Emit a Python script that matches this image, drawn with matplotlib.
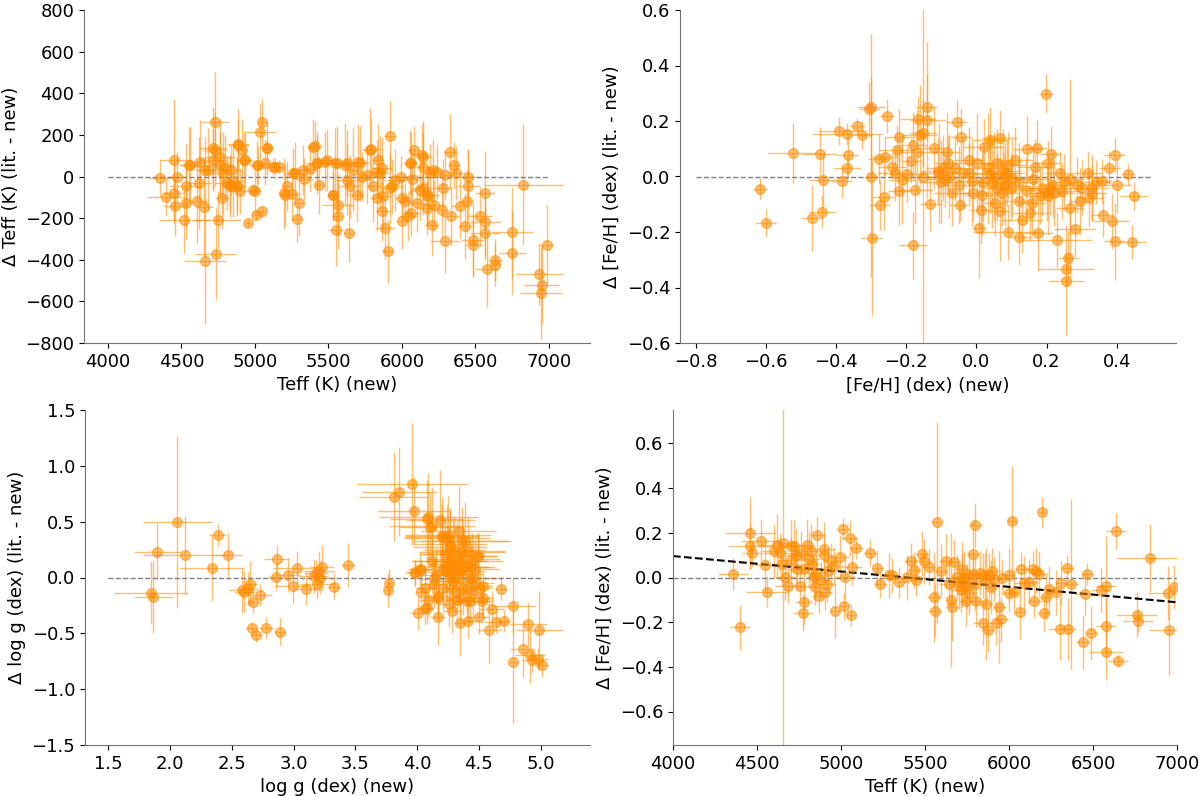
import numpy as np
import matplotlib
matplotlib.use('Agg')
import matplotlib.pyplot as plt

# top left: Teff (new) vs delta Teff
tl_teff = [4354, 4395, 4451, 4467, 4451, 4456, 4519, 4528, 4531, 4558,
           4608, 4621, 4653, 4660, 4733, 4728, 4746, 4728, 4717, 4683,
           4762, 4807, 4830, 4853, 4875, 4898, 4776, 4887, 4909, 4928,
           4785, 4840, 4955, 4989, 5007, 5050, 5034, 5050, 5080, 5023,
           5068, 5125, 5166, 5200, 5216, 5250, 5272, 5302, 5284, 5334,
           5374, 5408, 5424, 5435, 5488, 5533, 5556, 5567, 5567, 5549,
           5642, 5613, 5624, 5647, 5670, 5692, 5715, 5726, 5760, 5790,
           5805, 5832, 5839, 5862, 5866, 5885, 5907, 5919, 5930, 5953,
           5991, 6003, 5998, 6021, 6043, 6061, 6061, 6071, 6084, 6105,
           6134, 6146, 6141, 6168, 6180, 6202, 6214, 6218, 6270, 6277,
           6293, 6293, 6327, 6331, 6356, 6368, 6395, 6429, 6440, 6452,
           6452, 6481, 6486, 6531, 6565, 6565, 6565, 6576, 6633, 6633,
           6751, 6751, 6826, 6935, 6951, 6946, 6985,
           4553, 4626, 4660, 4717, 4762, 4796, 4830, 4875, 4886, 4932,
           5000, 5011, 5079, 5136, 5204, 5261, 5329, 5397, 5420, 5476,
           5528, 5544, 5624, 5703, 5782, 5828, 5873, 5850, 5918, 6054,
           6145, 6190, 6236, 6122, 6168]
tl_dteff = [-8, -99, 80, 0, -77, -144, -208, -128, -45, 56,
            -120, -32, -147, -408, -373, 261, -208, 128, 80, 32,
            56, -32, -45, -24, -48, -72, -104, 157, 128, 80,
            16, 32, -224, -64, -184, -168, 216, 261, 136, 56,
            67, 48, 48, -80, -45, -85, 16, -125, -205, -13,
            35, 147, 64, -40, 80, -88, 64, -136, -189, -259,
            -272, 56, -16, -48, 32, -88, 64, 0, 8, 131,
            -48, -104, 80, 40, -168, -248, -360, 195, -48, -16,
            0, -104, -216, -120, -192, -176, 64, -13, 125, -128,
            104, 48, -56, -152, -88, -232, 29, -136, -160, -56,
            8, -312, 120, -192, 56, 16, -144, -237, -120, 0,
            -45, -304, -328, -192, -77, -221, -272, -445, -400, -424,
            -269, -368, -40, -469, -520, -560, -328,
            56, 72, 32, 136, 96, 48, -40, -48, 152, 80,
            -72, 56, 136, 48, -88, 16, 32, 144, 64, 72,
            -88, 64, 64, 72, 128, 24, -96, 16, -56, 64,
            96, 16, 24, -64, -96]
tl_xerr = [75, 130, 95, 60, 70, 80, 175, 60, 110, 70,
           65, 90, 60, 145, 140, 95, 160, 80, 100, 70,
           90, 80, 60, 70, 50, 60, 50, 70, 40, 50,
           90, 70, 20, 30, 20, 20, 108, 30, 30, 50,
           30, 30, 25, 40, 30, 50, 40, 40, 30, 60,
           50, 40, 80, 40, 60, 40, 70, 108, 40, 50,
           40, 60, 80, 70, 60, 50, 60, 90, 50, 60,
           50, 50, 40, 70, 50, 70, 40, 40, 60, 70,
           60, 50, 40, 50, 60, 50, 40, 60, 40, 50,
           60, 50, 70, 60, 70, 50, 60, 80, 50, 60,
           50, 100, 50, 60, 40, 60, 60, 50, 40, 50,
           80, 80, 60, 80, 70, 110, 100, 80, 50, 40,
           140, 90, 270, 160, 120, 140, 50,
           60, 80, 70, 90, 100, 60, 50, 60, 70, 50,
           40, 50, 40, 40, 40, 50, 60, 40, 50, 40,
           40, 60, 70, 60, 50, 50, 60, 70, 60, 50,
           60, 50, 40, 60, 50]
tl_yerr = [90, 90, 290, 120, 150, 140, 160, 170, 200, 180,
           200, 220, 240, 300, 220, 240, 140, 180, 150, 200,
           160, 130, 150, 170, 140, 110, 150, 120, 150, 130,
           200, 120, 20, 30, 25, 25, 130, 110, 40, 90,
           110, 40, 30, 170, 120, 130, 150, 160, 110, 100,
           110, 120, 130, 140, 150, 120, 180, 150, 160, 170,
           140, 200, 170, 150, 200, 130, 180, 120, 140, 150,
           170, 160, 170, 150, 140, 150, 150, 170, 130, 150,
           100, 110, 130, 90, 120, 110, 150, 130, 120, 140,
           150, 160, 130, 130, 140, 150, 150, 120, 140, 140,
           120, 150, 180, 140, 110, 130, 150, 160, 150, 130,
           170, 180, 150, 140, 200, 160, 130, 180, 100, 100,
           220, 200, 290, 150, 190, 220, 190,
           180, 200, 160, 200, 180, 150, 140, 130, 170, 140,
           110, 120, 130, 40, 150, 120, 120, 130, 150, 140,
           130, 170, 160, 180, 200, 150, 160, 180, 170, 160,
           170, 140, 130, 150, 140]

# top right: [Fe/H] (new) vs delta [Fe/H]
tr_feh = [-0.617, -0.601, -0.522, -0.447, -0.469, -0.441, -0.436, -0.391, -0.370, -0.367,
          -0.370, -0.384, -0.339, -0.327, -0.306, -0.300, -0.301, -0.299, -0.279, -0.275,
          -0.264, -0.256, -0.260, -0.241, -0.232, -0.227, -0.222, -0.222, -0.212, -0.199,
          -0.186, -0.182, -0.181, -0.175, -0.170, -0.167, -0.162, -0.153, -0.142, -0.140,
          -0.132, -0.121, -0.108, -0.094, -0.085, -0.077, -0.070, -0.056, -0.048, -0.045,
          -0.037, -0.022, -0.013, 0.001, 0.008, 0.013, 0.015, 0.022, 0.034, 0.039,
          0.044, 0.053, 0.066, 0.066, 0.072, 0.082, 0.086, 0.091, 0.101, 0.110,
          0.120, 0.122, 0.129, 0.143, 0.153, 0.158, 0.167, 0.172, 0.177, 0.186,
          0.199, 0.203, 0.205, 0.212, 0.218, 0.229, 0.239, 0.244, 0.256, 0.256,
          0.262, 0.267, 0.281, 0.286, 0.294, 0.319, 0.322, 0.329, 0.357, 0.360,
          0.379, 0.386, 0.395, 0.395, 0.400, 0.433, 0.443, 0.449, -0.153, 0.267,
          -0.090, -0.060, 0.040, 0.080, 0.100, 0.200, 0.210, -0.010, 0.060, 0.140,
          -0.110, -0.100, -0.080, -0.050, -0.020, 0.020, 0.050, 0.060, 0.075, 0.090,
          0.120, 0.160, 0.180, 0.220, 0.250, 0.300, 0.330, 0.340]
tr_dfeh = [-0.046, -0.168, 0.084, 0.080, -0.150, -0.127, -0.014, 0.164, 0.152, 0.078,
           0.032, -0.018, 0.182, 0.149, 0.242, 0.252, -0.002, -0.221, 0.062, -0.104,
           -0.074, 0.218, 0.072, 0.036, 0.012, 0.096, 0.142, -0.054, -0.012, 0.008,
           0.056, 0.112, -0.248, -0.048, 0.090, 0.208, 0.150, 0.156, 0.250, 0.204,
           -0.098, 0.104, 0.014, 0.030, 0.090, 0.000, -0.060, 0.197, -0.102, 0.144,
           0.012, 0.012, -0.018, 0.048, -0.186, -0.122, -0.066, 0.108, 0.030, 0.132,
           -0.024, -0.096, 0.138, -0.126, -0.060, -0.030, 0.012, -0.200, -0.006, 0.060,
           -0.090, -0.218, -0.156, 0.098, -0.132, -0.096, 0.036, 0.102, -0.202, -0.042,
           0.298, -0.072, 0.048, 0.082, -0.030, -0.228, 0.012, -0.054, -0.334, -0.376,
           -0.294, -0.114, -0.190, -0.030, -0.090, 0.012, -0.078, -0.042, -0.018, -0.138,
           0.032, -0.162, -0.234, 0.078, -0.030, 0.010, -0.236, -0.070, 0.000, -0.010,
           -0.010, 0.030, 0.010, -0.010, -0.040, -0.060, -0.040, -0.060, 0.050, -0.050,
           0.020, -0.020, 0.050, -0.030, 0.060, -0.020, 0.000, -0.040, 0.020, 0.040,
           -0.020, -0.010, -0.070, -0.060, -0.020, -0.040, -0.060, -0.020]
tr_xerr = [0.02, 0.03, 0.071, 0.05, 0.03, 0.04, 0.04, 0.06, 0.10, 0.03,
           0.04, 0.03, 0.02, 0.03, 0.03, 0.04, 0.02, 0.03, 0.03, 0.03,
           0.03, 0.02, 0.04, 0.04, 0.05, 0.05, 0.04, 0.03, 0.04, 0.05,
           0.03, 0.04, 0.04, 0.05, 0.06, 0.05, 0.05, 0.04, 0.03, 0.05,
           0.03, 0.03, 0.04, 0.05, 0.04, 0.06, 0.05, 0.03, 0.03, 0.03,
           0.04, 0.05, 0.04, 0.04, 0.02, 0.03, 0.05, 0.06, 0.05, 0.05,
           0.04, 0.03, 0.05, 0.03, 0.05, 0.04, 0.05, 0.10, 0.04, 0.05,
           0.04, 0.03, 0.06, 0.04, 0.05, 0.04, 0.05, 0.03, 0.04, 0.04,
           0.02, 0.05, 0.04, 0.03, 0.04, 0.10, 0.04, 0.05, 0.08, 0.05,
           0.03, 0.04, 0.06, 0.04, 0.03, 0.04, 0.04, 0.05, 0.03, 0.03,
           0.03, 0.05, 0.03, 0.03, 0.04, 0.02, 0.04, 0.04, 0.04, 0.04,
           0.05, 0.04, 0.05, 0.05, 0.04, 0.05, 0.06, 0.04, 0.04, 0.05,
           0.05, 0.06, 0.04, 0.05, 0.04, 0.05, 0.06, 0.04, 0.05, 0.05,
           0.06, 0.05, 0.04, 0.06, 0.05, 0.04, 0.04, 0.04]
tr_yerr = [0.04, 0.05, 0.11, 0.10, 0.12, 0.06, 0.10, 0.05, 0.04, 0.08,
           0.04, 0.06, 0.03, 0.05, 0.10, 0.26, 0.36, 0.28, 0.09, 0.09,
           0.12, 0.06, 0.07, 0.05, 0.10, 0.09, 0.10, 0.12, 0.16, 0.10,
           0.08, 0.12, 0.12, 0.12, 0.15, 0.08, 0.18, 0.12, 0.12, 0.28,
           0.10, 0.15, 0.18, 0.12, 0.14, 0.15, 0.12, 0.08, 0.06, 0.10,
           0.13, 0.11, 0.16, 0.18, 0.18, 0.12, 0.15, 0.10, 0.20, 0.12,
           0.16, 0.12, 0.10, 0.18, 0.12, 0.15, 0.12, 0.10, 0.14, 0.12,
           0.15, 0.10, 0.12, 0.12, 0.10, 0.12, 0.10, 0.10, 0.14, 0.10,
           0.07, 0.14, 0.08, 0.10, 0.12, 0.10, 0.08, 0.10, 0.06, 0.20,
           0.10, 0.10, 0.10, 0.10, 0.12, 0.08, 0.10, 0.12, 0.08, 0.08,
           0.06, 0.10, 0.14, 0.06, 0.10, 0.04, 0.06, 0.05, 0.62, 0.36,
           0.10, 0.12, 0.14, 0.10, 0.12, 0.10, 0.10, 0.10, 0.12, 0.12,
           0.12, 0.15, 0.10, 0.14, 0.12, 0.14, 0.16, 0.12, 0.15, 0.12,
           0.14, 0.12, 0.10, 0.12, 0.10, 0.10, 0.10, 0.08]

# bottom left: log g (new) vs delta log g
bl_logg = [1.842, 1.864, 1.896, 2.058, 2.119, 2.335, 2.384, 2.470, 2.578, 2.596,
           2.650, 2.671, 2.731, 2.664, 2.696, 2.777, 2.887, 2.861, 2.853, 2.952,
           2.993, 3.030, 3.101, 3.162, 3.189, 3.203, 3.230, 3.216, 3.324, 3.440,
           3.760, 3.776, 3.809, 3.857, 3.962, 3.971, 3.979, 4.003, 4.031, 4.031,
           4.065, 4.079, 4.106, 4.120, 4.133, 4.165, 4.173, 4.186, 4.200, 4.227,
           4.240, 4.254, 4.267, 4.281, 4.294, 4.308, 4.321, 4.335, 4.348, 4.362,
           4.375, 4.389, 4.402, 4.415, 4.429, 4.443, 4.456, 4.470, 4.496, 4.505,
           4.523, 4.537, 4.585, 4.605, 4.639, 4.677, 4.704, 4.779, 4.779, 4.855,
           4.900, 4.914, 4.927, 4.976, 5.008, 4.989, 4.213, 4.267, 4.348, 4.300,
           4.250, 4.320, 4.400, 4.150, 4.360, 4.280, 2.630, 3.180, 4.090, 4.470,
           4.092, 4.119, 4.200, 4.240, 4.269, 4.294, 4.254, 4.321, 4.375, 4.429,
           4.496, 4.455, 4.294, 4.213, 4.133, 3.984, 4.025, 4.065, 4.079, 4.173,
           4.348, 4.429, 4.509, 4.536, 4.389, 4.335, 4.415, 4.230]
bl_dlogg = [-0.135, -0.174, 0.231, 0.494, 0.204, 0.087, 0.380, 0.198, -0.114, -0.126,
            -0.054, -0.219, -0.159, -0.455, -0.515, -0.452, -0.485, 0.165, 0.006, 0.024,
            -0.078, 0.087, -0.099, 0.015, -0.060, 0.060, 0.090, 0.000, -0.081, 0.111,
            -0.111, -0.048, 0.725, 0.769, 0.838, 0.599, 0.036, -0.320, 0.066, -0.129,
            -0.269, 0.524, 0.455, 0.150, -0.060, -0.353, -0.165, 0.515, 0.359, 0.210,
            0.045, -0.240, 0.299, 0.120, -0.030, -0.120, 0.150, 0.030, -0.404, 0.225,
            -0.090, 0.090, -0.210, -0.389, 0.000, 0.150, -0.150, -0.045, 0.195, -0.353,
            -0.210, -0.075, -0.470, -0.278, -0.401, -0.099, -0.392, -0.254, -0.757, -0.638,
            -0.419, -0.698, -0.743, -0.728, -0.787, -0.467, 0.075, 0.030, 0.060, 0.250,
            0.380, -0.200, -0.100, 0.020, 0.330, -0.300, -0.100, 0.040, -0.200, 0.080,
            0.539, 0.464, 0.374, 0.350, 0.269, 0.210, 0.150, 0.090, 0.165, 0.090,
            0.195, 0.000, -0.030, -0.090, -0.015, 0.045, 0.075, -0.090, -0.269, -0.180,
            -0.180, -0.209, -0.090, -0.180, 0.330, 0.420, 0.240, 0.100]
bl_xerr = [0.30, 0.155, 0.19, 0.28, 0.34, 0.26, 0.07, 0.11, 0.10, 0.08,
           0.06, 0.05, 0.09, 0.05, 0.05, 0.06, 0.05, 0.10, 0.06, 0.10,
           0.15, 0.20, 0.10, 0.12, 0.14, 0.12, 0.10, 0.12, 0.05, 0.06,
           0.03, 0.03, 0.28, 0.30, 0.45, 0.30, 0.06, 0.06, 0.08, 0.05,
           0.06, 0.30, 0.25, 0.15, 0.10, 0.06, 0.10, 0.28, 0.30, 0.20,
           0.15, 0.10, 0.30, 0.20, 0.15, 0.10, 0.25, 0.20, 0.05, 0.35,
           0.15, 0.20, 0.12, 0.08, 0.20, 0.25, 0.10, 0.15, 0.15, 0.08,
           0.10, 0.08, 0.10, 0.10, 0.10, 0.04, 0.05, 0.18, 0.04, 0.10,
           0.15, 0.12, 0.08, 0.08, 0.05, 0.19, 0.20, 0.15, 0.20, 0.25,
           0.35, 0.10, 0.15, 0.15, 0.40, 0.08, 0.08, 0.10, 0.07, 0.20,
           0.40, 0.35, 0.30, 0.35, 0.30, 0.25, 0.30, 0.25, 0.30, 0.20,
           0.15, 0.20, 0.15, 0.12, 0.10, 0.08, 0.10, 0.08, 0.06, 0.10,
           0.10, 0.10, 0.10, 0.08, 0.35, 0.30, 0.30, 0.25]
bl_yerr = [0.28, 0.32, 0.25, 0.77, 0.35, 0.30, 0.10, 0.20, 0.20, 0.18,
           0.20, 0.10, 0.10, 0.06, 0.06, 0.10, 0.12, 0.13, 0.12, 0.15,
           0.15, 0.15, 0.15, 0.15, 0.12, 0.18, 0.20, 0.15, 0.12, 0.20,
           0.15, 0.12, 0.40, 0.40, 0.55, 0.30, 0.10, 0.15, 0.10, 0.10,
           0.15, 0.35, 0.30, 0.30, 0.20, 0.25, 0.20, 0.45, 0.30, 0.30,
           0.25, 0.20, 0.30, 0.25, 0.25, 0.20, 0.35, 0.25, 0.30, 0.30,
           0.25, 0.30, 0.20, 0.15, 0.25, 0.25, 0.20, 0.20, 0.20, 0.15,
           0.15, 0.12, 0.30, 0.15, 0.10, 0.10, 0.10, 0.25, 0.55, 0.25,
           0.20, 0.25, 0.10, 0.10, 0.10, 0.35, 0.30, 0.25, 0.25, 0.30,
           0.35, 0.20, 0.20, 0.25, 0.30, 0.20, 0.15, 0.12, 0.15, 0.25,
           0.40, 0.35, 0.35, 0.30, 0.35, 0.30, 0.30, 0.30, 0.30, 0.25,
           0.20, 0.25, 0.25, 0.20, 0.20, 0.12, 0.15, 0.15, 0.15, 0.20,
           0.20, 0.20, 0.15, 0.15, 0.35, 0.40, 0.30, 0.30]

# bottom right: Teff (new) vs delta [Fe/H], with linear trend
br_teff = [4359, 4398, 4458, 4458, 4468, 4522, 4548, 4562, 4618, 4637,
           4657, 4667, 4687, 4721, 4733, 4757, 4773, 4777, 4797, 4807,
           4827, 4837, 4847, 4857, 4867, 4896, 4896, 4906, 4916, 4940,
           4962, 4996, 5010, 5016, 5026, 5052, 5060, 5066, 5092, 5171,
           5215, 5235, 5285, 5305, 5345, 5394, 5414, 5434, 5444, 5484,
           5494, 5524, 5554, 5558, 5574, 5594, 5624, 5643, 5653, 5663,
           5673, 5693, 5713, 5723, 5743, 5763, 5783, 5783, 5799, 5803,
           5843, 5843, 5862, 5876, 5892, 5912, 5922, 5942, 5952, 5998,
           6002, 6016, 6032, 6068, 6072, 6088, 6151, 6161, 6181, 6197,
           6207, 6221, 6281, 6301, 6311, 6347, 6351, 6370, 6440, 6450,
           6466, 6490, 6550, 6576, 6576, 6576, 6639, 6649, 6759, 6769,
           6839, 6948, 6954, 6984, 4700, 4780, 4850, 5720, 5750, 5880,
           4600, 4650, 4700, 4740, 4760, 4820, 4880, 4920, 4960, 5700,
           5730, 5760, 5800, 5830, 5860, 5900, 5960, 6120, 6140, 6240]
br_dfeh = [0.016, -0.223, 0.200, 0.139, 0.109, 0.163, 0.054, -0.063, 0.144, 0.109,
           0.154, 0.001, -0.036, 0.139, 0.099, -0.036, -0.160, -0.111, 0.144, 0.084,
           0.061, 0.001, -0.043, 0.191, -0.081, 0.129, 0.099, -0.066, -0.028, 0.073,
           -0.151, 0.091, 0.217, -0.129, 0.001, 0.176, -0.167, 0.046, 0.132, 0.111,
           0.042, -0.031, 0.009, 0.009, -0.021, 0.001, 0.076, 0.034, -0.013, 0.106,
           0.073, 0.046, -0.088, -0.148, 0.247, 0.031, 0.076, -0.028, -0.100, -0.133,
           0.069, 0.001, -0.058, -0.013, -0.103, 0.009, 0.106, 0.016, 0.233, -0.103,
           0.009, -0.203, -0.118, -0.235, -0.043, -0.006, -0.203, -0.133, -0.187, 0.012,
           -0.070, 0.251, -0.066, -0.155, 0.036, -0.024, -0.103, 0.031, 0.016, 0.292,
           -0.160, -0.088, -0.066, -0.230, -0.024, 0.042, -0.230, -0.028, -0.290, -0.073,
           0.016, -0.248, -0.058, -0.036, -0.218, -0.335, 0.208, -0.372, -0.167, -0.193,
           0.088, -0.070, -0.235, -0.043, 0.080, 0.040, 0.020, 0.040, -0.040, 0.010,
           0.120, 0.060, 0.140, 0.040, 0.110, 0.120, -0.010, 0.030, 0.050, -0.040,
           0.000, -0.070, -0.030, 0.020, -0.010, 0.030, 0.000, -0.020, 0.040, -0.050]
br_xerr = [90, 60, 150, 130, 60, 120, 60, 130, 110, 100,
           60, 60, 80, 90, 60, 60, 60, 50, 50, 60,
           50, 40, 50, 40, 40, 70, 60, 40, 50, 50,
           30, 50, 40, 30, 60, 50, 30, 60, 40, 40,
           30, 40, 40, 40, 40, 40, 40, 40, 30, 40,
           40, 40, 40, 40, 30, 40, 40, 60, 30, 40,
           50, 40, 60, 50, 40, 60, 40, 60, 40, 40,
           50, 60, 40, 40, 40, 50, 40, 40, 40, 40,
           40, 30, 30, 30, 40, 60, 40, 40, 50, 20,
           40, 40, 60, 70, 40, 40, 50, 40, 40, 60,
           40, 40, 60, 60, 60, 100, 60, 60, 120, 90,
           200, 120, 120, 40, 80, 60, 60, 50, 50, 50,
           70, 60, 80, 60, 50, 60, 50, 40, 50, 40,
           50, 40, 60, 50, 40, 50, 40, 50, 40, 40]
br_yerr = [0.07, 0.10, 0.16, 0.10, 0.06, 0.10, 0.12, 0.07, 0.14, 0.09,
           1.00, 0.10, 0.08, 0.12, 0.12, 0.06, 0.08, 0.10, 0.12, 0.12,
           0.10, 0.10, 0.08, 0.08, 0.08, 0.12, 0.10, 0.08, 0.08, 0.08,
           0.12, 0.10, 0.05, 0.06, 0.10, 0.08, 0.05, 0.08, 0.05, 0.06,
           0.08, 0.06, 0.10, 0.08, 0.07, 0.10, 0.08, 0.08, 0.07, 0.10,
           0.10, 0.08, 0.20, 0.12, 0.45, 0.12, 0.12, 0.10, 0.30, 0.15,
           0.10, 0.10, 0.10, 0.12, 0.12, 0.10, 0.15, 0.10, 0.10, 0.12,
           0.10, 0.10, 0.25, 0.10, 0.12, 0.10, 0.10, 0.25, 0.10, 0.12,
           0.08, 0.25, 0.10, 0.12, 0.08, 0.12, 0.08, 0.10, 0.10, 0.07,
           0.08, 0.10, 0.10, 0.14, 0.10, 0.06, 0.14, 0.38, 0.12, 0.10,
           0.05, 0.12, 0.10, 0.22, 0.14, 0.12, 0.08, 0.03, 0.10, 0.05,
           0.15, 0.12, 0.20, 0.10, 0.10, 0.10, 0.10, 0.12, 0.10, 0.10,
           0.12, 0.10, 0.12, 0.10, 0.10, 0.12, 0.08, 0.10, 0.08, 0.10,
           0.12, 0.10, 0.12, 0.10, 0.12, 0.10, 0.08, 0.10, 0.08, 0.10]
br_fit = [-6.9e-5, 0.372]  # slope, intercept of the trend line


def panel(ax, x, y, xerr, yerr, hline_x, xlabel, ylabel):

    '''
    Draw one comparison panel
    Argument: ax, data arrays, x range of the zero line, axis labels
    Return: None
    '''

    ax.errorbar(x, y, xerr=xerr, yerr=yerr, fmt='o', color='darkorange',
                ms=7, elinewidth=1, alpha=0.55)
    ax.hlines(0, hline_x[0], hline_x[1], colors='gray', linestyles='--', lw=1)
    ax.set_xlabel(xlabel, fontsize=13)
    ax.set_ylabel(ylabel, fontsize=13)
    ax.tick_params(labelsize=13)
    ax.spines['top'].set_visible(False)
    ax.spines['right'].set_visible(False)
    for side in ['left', 'bottom']:
        ax.spines[side].set_color('0.45')


def main() -> int:

    '''
    Program to compare literature and new stellar parameters
    Argument: None
    Return: 0 on succes
    '''

    fig = plt.figure(figsize=(12, 7.96), dpi=100)
    ax1 = fig.add_axes([84 / 1200, 453 / 796, 506 / 1200, 333 / 796])
    ax2 = fig.add_axes([680 / 1200, 453 / 796, 496 / 1200, 333 / 796])
    ax3 = fig.add_axes([85 / 1200, 51 / 796, 505 / 1200, 335 / 796])
    ax4 = fig.add_axes([673 / 1200, 51 / 796, 504 / 1200, 335 / 796])

    panel(ax1, tl_teff, tl_dteff, tl_xerr, tl_yerr, (4000, 7000),
          'Teff (K) (new)', 'Δ Teff (K) (lit. - new)')
    ax1.set_xlim(3837, 7279)
    ax1.set_ylim(-800, 800)
    ax1.set_xticks(np.arange(4000, 7001, 500))
    ax1.set_yticks(np.arange(-800, 801, 200))

    panel(ax2, tr_feh, tr_dfeh, tr_xerr, tr_yerr, (-0.8, 0.5),
          '[Fe/H] (dex) (new)', 'Δ [Fe/H] (dex) (lit. - new)')
    ax2.set_xlim(-0.845, 0.569)
    ax2.set_ylim(-0.6, 0.6)
    ax2.set_xticks(np.arange(-0.8, 0.41, 0.2))
    ax2.set_yticks(np.arange(-0.6, 0.61, 0.2))

    panel(ax3, bl_logg, bl_dlogg, bl_xerr, bl_yerr, (1.5, 5.0),
          'log g (dex) (new)', 'Δ log g (dex) (lit. - new)')
    ax3.set_xlim(1.31, 5.40)
    ax3.set_ylim(-1.5, 1.5)
    ax3.set_xticks(np.arange(1.5, 5.01, 0.5))
    ax3.set_yticks(np.arange(-1.5, 1.51, 0.5))

    panel(ax4, br_teff, br_dfeh, br_xerr, br_yerr, (4000, 7000),
          'Teff (K) (new)', 'Δ [Fe/H] (dex) (lit. - new)')
    xfit = np.array([4000, 7000])
    ax4.plot(xfit, np.polyval(br_fit, xfit), 'k--', lw=1.5)
    ax4.set_xlim(4000, 7000)
    ax4.set_ylim(-0.75, 0.75)
    ax4.set_xticks(np.arange(4000, 7001, 500))
    ax4.set_yticks(np.arange(-0.6, 0.61, 0.2))

    fig.savefig('out.png', dpi=100)
    return 0


if __name__ == "__main__":
    main()
